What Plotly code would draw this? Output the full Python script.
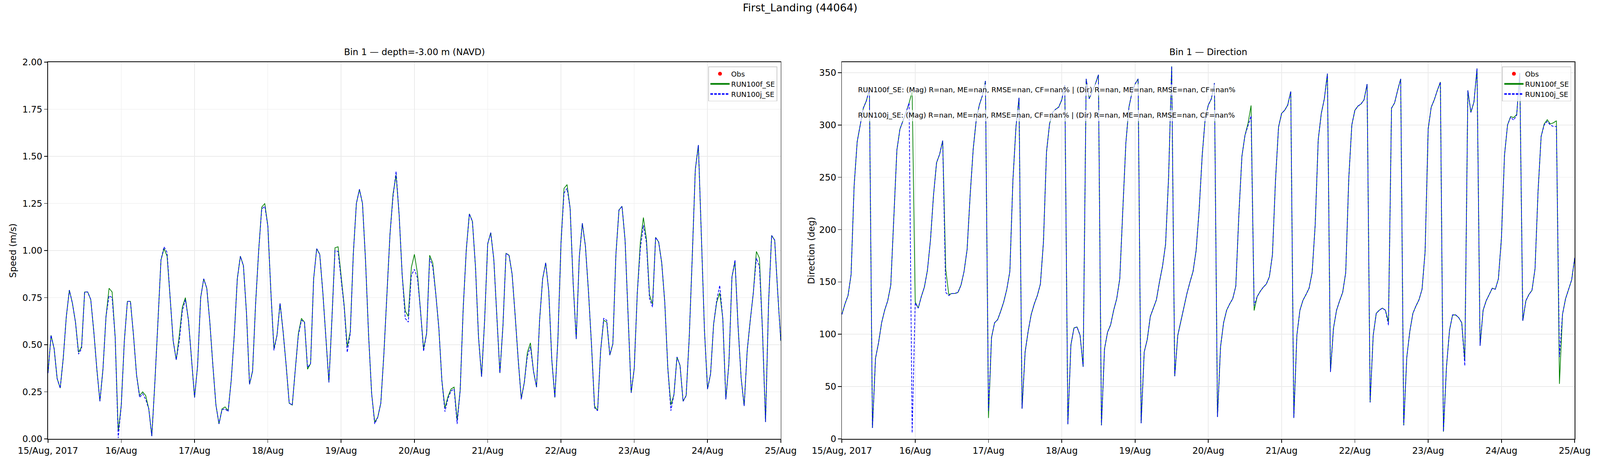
import pandas as pd
import plotly.graph_objects as go

# ---------------- data ----------------
fig_title = "First_Landing (44064)"
title_speed = "Bin 1 \u2014 depth=-3.00 m (NAVD)"
title_dir = "Bin 1 \u2014 Direction"
label_speed = "Speed (m/s)"
label_dir = "Direction (deg)"
series_names = ["Obs", "RUN100f_SE", "RUN100j_SE"]

times = pd.date_range("2017-08-15 00:00", "2017-08-25 00:00", freq="h")
day_ticks = pd.date_range("2017-08-15", "2017-08-25", freq="D")
day_labels = ["15/Aug, 2017", "16/Aug", "17/Aug", "18/Aug", "19/Aug", "20/Aug",
              "21/Aug", "22/Aug", "23/Aug", "24/Aug", "25/Aug"]
speed_ticks = [0.0, 0.25, 0.5, 0.75, 1.0, 1.25, 1.5, 1.75, 2.0]
dir_ticks = [0, 50, 100, 150, 200, 250, 300, 350]

# observations: no valid values in this window (NaN only)
obs_time = [times[0]]
obs_speed = [None]
obs_dir = [None]

speed_f = [
    0.35, 0.55, 0.48, 0.32, 0.27, 0.43, 0.65, 0.79, 0.72, 0.62, 0.46, 0.49,
    0.78, 0.78, 0.74, 0.57, 0.37, 0.20, 0.37, 0.65, 0.80, 0.78, 0.54, 0.04,
    0.18, 0.52, 0.73, 0.73, 0.55, 0.34, 0.23, 0.25, 0.23, 0.16, 0.015, 0.30,
    0.62, 0.95, 1.01, 0.97, 0.75, 0.52, 0.42, 0.55, 0.70, 0.75, 0.63, 0.42,
    0.22, 0.39, 0.75, 0.85, 0.80, 0.62, 0.39, 0.18, 0.08, 0.16, 0.17, 0.15,
    0.31, 0.55, 0.85, 0.97, 0.92, 0.67, 0.29, 0.36, 0.72, 1.00, 1.23, 1.25,
    1.13, 0.78, 0.48, 0.55, 0.72, 0.57, 0.39, 0.19, 0.18, 0.37, 0.56, 0.64,
    0.62, 0.37, 0.40, 0.85, 1.01, 0.98, 0.78, 0.54, 0.30, 0.64, 1.015, 1.02,
    0.86, 0.71, 0.49, 0.57, 0.985, 1.25, 1.325, 1.25, 0.945, 0.55, 0.24, 0.09,
    0.115, 0.19, 0.45, 0.77, 1.085, 1.30, 1.40, 1.19, 0.87, 0.68, 0.65, 0.91,
    0.98, 0.88, 0.68, 0.48, 0.56, 0.975, 0.935, 0.77, 0.59, 0.31, 0.165, 0.225,
    0.265, 0.275, 0.10, 0.26, 0.70, 1.005, 1.195, 1.155, 0.915, 0.54, 0.33, 0.63,
    1.035, 1.095, 0.955, 0.65, 0.35, 0.60, 0.985, 0.975, 0.875, 0.655, 0.42, 0.215,
    0.30, 0.46, 0.51, 0.36, 0.275, 0.63, 0.85, 0.935, 0.785, 0.42, 0.22, 0.53,
    1.035, 1.33, 1.35, 1.225, 0.825, 0.53, 0.965, 1.145, 1.025, 0.785, 0.50, 0.175,
    0.15, 0.47, 0.63, 0.62, 0.445, 0.505, 0.98, 1.215, 1.235, 1.055, 0.655, 0.245,
    0.375, 0.775, 1.045, 1.175, 1.06, 0.765, 0.715, 1.07, 1.045, 0.935, 0.725, 0.375,
    0.18, 0.235, 0.435, 0.39, 0.20, 0.23, 0.535, 0.965, 1.43, 1.56, 1.07, 0.575,
    0.265, 0.345, 0.61, 0.725, 0.775, 0.64, 0.21, 0.40, 0.86, 0.94, 0.60, 0.325,
    0.175, 0.47, 0.63, 0.775, 0.995, 0.96, 0.575, 0.09, 0.725, 1.08, 1.055, 0.775,
    0.52,
]

speed_j = [
    0.35, 0.55, 0.48, 0.32, 0.27, 0.43, 0.65, 0.79, 0.72, 0.62, 0.45, 0.48,
    0.78, 0.78, 0.74, 0.57, 0.37, 0.20, 0.37, 0.65, 0.76, 0.75, 0.54, 0.005,
    0.18, 0.52, 0.73, 0.73, 0.55, 0.34, 0.22, 0.24, 0.21, 0.16, 0.015, 0.30,
    0.62, 0.95, 1.02, 0.99, 0.75, 0.52, 0.42, 0.52, 0.68, 0.74, 0.63, 0.42,
    0.22, 0.39, 0.75, 0.85, 0.80, 0.62, 0.39, 0.18, 0.08, 0.155, 0.16, 0.145,
    0.31, 0.55, 0.85, 0.97, 0.92, 0.67, 0.29, 0.36, 0.72, 1.00, 1.22, 1.235,
    1.13, 0.78, 0.47, 0.55, 0.72, 0.57, 0.39, 0.19, 0.18, 0.37, 0.55, 0.63,
    0.62, 0.38, 0.40, 0.85, 1.01, 0.98, 0.78, 0.54, 0.30, 0.64, 1.00, 0.995,
    0.85, 0.70, 0.46, 0.56, 0.985, 1.25, 1.325, 1.25, 0.945, 0.55, 0.24, 0.08,
    0.115, 0.19, 0.45, 0.77, 1.085, 1.285, 1.42, 1.19, 0.87, 0.64, 0.62, 0.87,
    0.90, 0.855, 0.68, 0.465, 0.56, 0.96, 0.915, 0.77, 0.59, 0.31, 0.145, 0.215,
    0.255, 0.265, 0.08, 0.26, 0.70, 1.005, 1.195, 1.155, 0.915, 0.54, 0.33, 0.63,
    1.035, 1.095, 0.955, 0.65, 0.35, 0.60, 0.985, 0.975, 0.875, 0.655, 0.42, 0.21,
    0.30, 0.44, 0.49, 0.36, 0.275, 0.63, 0.85, 0.935, 0.785, 0.42, 0.22, 0.53,
    1.035, 1.305, 1.33, 1.225, 0.825, 0.53, 0.965, 1.145, 1.025, 0.785, 0.50, 0.165,
    0.15, 0.47, 0.64, 0.63, 0.445, 0.505, 0.98, 1.215, 1.235, 1.055, 0.655, 0.245,
    0.375, 0.775, 1.01, 1.135, 1.04, 0.745, 0.70, 1.07, 1.045, 0.935, 0.725, 0.375,
    0.15, 0.235, 0.435, 0.39, 0.20, 0.23, 0.535, 0.965, 1.43, 1.56, 1.07, 0.575,
    0.265, 0.345, 0.61, 0.735, 0.815, 0.64, 0.21, 0.40, 0.86, 0.95, 0.60, 0.325,
    0.175, 0.47, 0.63, 0.775, 0.96, 0.915, 0.575, 0.09, 0.725, 1.08, 1.055, 0.775,
    0.52,
]

dir_f = [
    119, 129, 137, 157, 242, 284, 300, 316, 323, 334, 10.5, 77,
    92, 111, 123, 132, 147, 214, 276, 296, 304, 312, 321, 332,
    131, 125, 136, 145, 161, 190, 233, 264, 272, 285, 162, 138,
    139, 139, 140, 147, 160, 181, 233, 277, 305, 319, 328, 342,
    20, 97, 111, 114, 122, 131, 143, 160, 247, 298, 326, 29,
    83, 103, 119, 129, 137, 148, 188, 274, 301, 312, 315, 317,
    324, 338, 14, 90, 106, 107, 99, 69, 344, 325, 332, 339,
    348, 13, 86, 102, 109, 123, 134, 153, 219, 283, 317, 331,
    339, 344, 15, 83, 95, 117, 125, 133, 150, 165, 186, 251,
    356, 60, 99, 112, 125, 139, 150, 160, 180, 219, 271, 307,
    319, 325, 340, 21, 88, 111, 123, 129, 134, 146, 214, 270,
    290, 301.5, 318.6, 122.7, 136, 141, 145, 148, 155, 176, 247, 298,
    311, 314, 319, 332, 20, 99, 123, 132.5, 138, 144, 159, 204.5,
    286, 311, 325, 349, 64, 106, 123, 132, 140, 159, 249, 300,
    314, 318, 320, 324, 339, 35, 99, 120, 123, 125, 123, 112,
    316, 321, 333, 344, 13, 78, 103, 120, 127, 133, 143, 179,
    296, 317, 324, 333, 341, 7, 69, 104, 118.5, 118.5, 116, 111,
    75, 333, 312, 322, 354, 89, 123, 132, 138, 144, 143, 153,
    192, 271, 300, 308, 307, 310, 349.5, 113, 132, 138, 142, 162.5,
    237, 289, 301, 305, 301, 302, 304, 52.6, 119, 134, 143, 152,
    173,
]

dir_j = [
    119, 129, 137, 157, 242, 284, 300, 316, 323, 334, 10.5, 77,
    92, 111, 123, 132, 147, 214, 276, 296, 304, 312, 321, 5.8,
    130, 125, 136, 145, 161, 190, 233, 264, 272, 285, 140, 137,
    139, 139, 140, 147, 160, 181, 233, 277, 305, 319, 328, 342,
    27, 97, 111, 114, 122, 131, 143, 160, 247, 298, 326, 29,
    83, 103, 119, 129, 137, 148, 188, 274, 301, 312, 315, 317,
    324, 338, 14, 90, 106, 107, 99, 69, 344, 325, 332, 339,
    348, 13, 86, 102, 109, 123, 134, 153, 219, 283, 317, 331,
    339, 344, 15, 83, 95, 117, 125, 133, 150, 165, 186, 251,
    356, 60, 99, 112, 125, 139, 150, 160, 180, 219, 271, 307,
    319, 325, 340, 21, 88, 111, 123, 129, 134, 146, 214, 270,
    290, 299, 308.6, 127.4, 136, 141, 145, 148, 155, 176, 247, 298,
    311, 314, 319, 332, 20, 99, 123, 132.5, 138, 144, 159, 204.5,
    286, 311, 325, 349, 64, 106, 123, 132, 140, 159, 249, 300,
    314, 318, 320, 324, 339, 35, 99, 120, 123, 125, 123, 108.7,
    316, 321, 333, 344, 13, 78, 103, 120, 127, 133, 143, 179,
    296, 317, 324, 333, 341, 7, 69, 104, 118.5, 118.5, 116, 111,
    70, 333, 312, 322, 354, 89, 123, 132, 138, 144, 143, 153,
    192, 271, 300, 307.4, 304.6, 309.3, 349.5, 113, 132, 138, 142, 162.5,
    237, 289, 300, 303.4, 300, 298.5, 298.5, 78.3, 119, 134, 143, 152,
    173,
]

stats_lines = [
    "RUN100f_SE: (Mag) R=nan, ME=nan, RMSE=nan, CF=nan% | (Dir) R=nan, ME=nan, RMSE=nan, CF=nan%",
    "RUN100j_SE: (Mag) R=nan, ME=nan, RMSE=nan, CF=nan% | (Dir) R=nan, ME=nan, RMSE=nan, CF=nan%",
]

# ---------------- styling / layout ----------------
W, H = 5000, 1200          # reference canvas (positions below are read from it)
FONT = "DejaVu Sans"
X1 = [150 / W, 2440 / W]
X2 = [2631 / W, 4921 / W]
YD = [1 - 1123 / H, 1 - 159 / H]

GREEN = "#008000"
BLUE = "#0000ff"
RED = "#ff0000"
LW = 2.2

fig = go.Figure()

panels = [
    ("x", "y", "legend", obs_speed, speed_f, speed_j),
    ("x2", "y2", "legend2", obs_dir, dir_f, dir_j),
]
for xa, ya, lg, obs, f_vals, j_vals in panels:
    fig.add_trace(go.Scatter(x=obs_time, y=obs, mode="markers", name=series_names[0],
                             marker=dict(color=RED, size=11), xaxis=xa, yaxis=ya,
                             legend=lg, showlegend=True))
    fig.add_trace(go.Scatter(x=times, y=f_vals, mode="lines", name=series_names[1],
                             line=dict(color=GREEN, width=LW), xaxis=xa, yaxis=ya,
                             legend=lg))
    fig.add_trace(go.Scatter(x=times, y=j_vals, mode="lines", name=series_names[2],
                             line=dict(color=BLUE, width=LW, dash="8px,4px"),
                             xaxis=xa, yaxis=ya, legend=lg))

axis_common = dict(
    showline=True, linecolor="black", linewidth=2.2, mirror=True,
    ticks="outside", ticklen=10, tickwidth=2.2, tickcolor="black",
    showgrid=True, gridcolor="#ebebeb", gridwidth=2, zeroline=False,
    automargin=False,
    tickfont=dict(family=FONT, size=28, color="black"),
)
xaxis_common = dict(axis_common, type="date",
                    range=[times[0], times[-1]],
                    tickmode="array", tickvals=list(day_ticks), ticktext=day_labels)

legend_common = dict(
    xanchor="right", yanchor="top",
    bgcolor="rgba(255,255,255,0.8)", bordercolor="#cccccc", borderwidth=2,
    font=dict(family=FONT, size=22, color="black"),
    tracegroupgap=0, itemsizing="constant", itemwidth=60,
)

annotations = [
    dict(text=fig_title, x=0.5, y=1 - 20 / H, xref="paper", yref="paper",
         xanchor="center", yanchor="middle", showarrow=False,
         font=dict(family=FONT, size=33, color="black")),
    dict(text=title_speed, x=(X1[0] + X1[1]) / 2, y=1 - 133 / H, xref="paper", yref="paper",
         xanchor="center", yanchor="middle", showarrow=False,
         font=dict(family=FONT, size=28, color="black")),
    dict(text=title_dir, x=(X2[0] + X2[1]) / 2, y=1 - 133 / H, xref="paper", yref="paper",
         xanchor="center", yanchor="middle", showarrow=False,
         font=dict(family=FONT, size=28, color="black")),
    dict(text=label_speed, x=41 / W, y=(YD[0] + YD[1]) / 2, xref="paper", yref="paper",
         xanchor="center", yanchor="middle", textangle=-90, showarrow=False,
         font=dict(family=FONT, size=28, color="black")),
    dict(text=label_dir, x=2536 / W, y=(YD[0] + YD[1]) / 2, xref="paper", yref="paper",
         xanchor="center", yanchor="middle", textangle=-90, showarrow=False,
         font=dict(family=FONT, size=28, color="black")),
]
for i, line in enumerate(stats_lines):
    annotations.append(dict(
        text=line, x=2676 / W, y=1 - (230 + 66 * i) / H, xref="paper", yref="paper",
        xanchor="left", yanchor="middle", showarrow=False,
        bgcolor="rgba(255,255,255,0.7)", borderpad=4,
        font=dict(family=FONT, size=22, color="black")))

fig.update_layout(
    width=W, height=H, autosize=False,
    margin=dict(l=0, r=0, t=0, b=0, pad=0),
    paper_bgcolor="white", plot_bgcolor="white",
    font=dict(family=FONT, color="black"),
    xaxis=dict(xaxis_common, domain=X1, anchor="y"),
    yaxis=dict(axis_common, domain=YD, anchor="x", range=[0, 2],
               tickmode="array", tickvals=speed_ticks,
               ticktext=[f"{v:.2f}" for v in speed_ticks]),
    xaxis2=dict(xaxis_common, domain=X2, anchor="y2"),
    yaxis2=dict(axis_common, domain=YD, anchor="x2", range=[0, 360],
                tickmode="array", tickvals=dir_ticks,
                ticktext=[str(v) for v in dir_ticks]),
    legend=dict(legend_common, x=2429 / W, y=1 - 170 / H),
    legend2=dict(legend_common, x=4910 / W, y=1 - 170 / H),
    annotations=annotations,
    showlegend=True,
)

# Fit the figure to the browser viewport: keep the 5000-px-wide design,
# scale it to the viewport width and let the height follow the viewport.
fit_js = """
var gd = document.getElementById('{plot_id}');
document.body.style.margin = '0';
document.documentElement.style.overflow = 'hidden';
document.body.style.overflow = 'hidden';
var s = window.innerWidth / WREF;
var h = Math.round(window.innerHeight / s);
Plotly.relayout(gd, {height: h}).then(function () {
    if (s > 0 && s !== 1) { document.body.style.zoom = s; }
});
""".replace("WREF", str(W))

fig.write_html("out.html",
               config={"responsive": False, "displayModeBar": False},
               post_script=fit_js)
